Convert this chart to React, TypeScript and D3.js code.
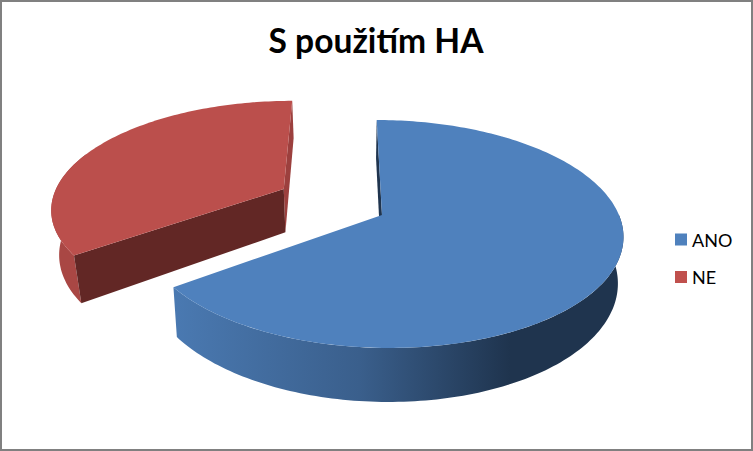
import React from 'react';
import * as d3 from 'd3';

const title = 'S použitím HA';
const categories = ['ANO', 'NE'];
const shares = [65, 35];
const colors = ['#4f81bd', '#c0504d'];

const width = 753;
const height = 451;

// perspective set-up: disc radius = 1, z grows towards the viewer
const vanishX = 345;
const groundY = 215;
const scaleX = 237;
const scaleY = 110.8;
const depth = 1 / 6;
const thickness = 45;
const discX = 0.156;
const explode = 0.49;
const explodeTurn = 0.05;
const shrinkAno = 0.02;
const shrinkNe = 0.027;

type P = [number, number];

// shrink > 0 means a point on the lower rim of the slice
function project(x: number, z: number, shrink = 0): P {
    const s = 1 / (1 - depth * z);
    return [
        vanishX + s * (1 - shrink) * scaleX * x,
        groundY + s * scaleY * z + (shrink ? s * thickness : 0),
    ];
}

function rimPoints(cx: number, cz: number, a0: number, a1: number, shrink = 0): P[] {
    const n = Math.max(2, Math.ceil(Math.abs(a1 - a0) / 0.02));
    return d3.range(n + 1).map((i) => {
        const a = a0 + ((a1 - a0) * i) / n;
        return project(cx + Math.sin(a), cz - Math.cos(a), shrink);
    });
}

const path = d3.line<P>().x((d) => d[0]).y((d) => d[1]);

const arcs = d3.pie<number>().sort(null)(shares);
const [ano, ne] = arcs;

// blue stays near the middle, red is pulled out along its mid angle
const neMid = (ne.startAngle + ne.endAngle) / 2 + explodeTurn;
const neX = discX + explode * Math.sin(neMid);
const neZ = -explode * Math.cos(neMid);

function topFace(cx: number, cz: number, a0: number, a1: number) {
    return path([project(cx, cz), ...rimPoints(cx, cz, a0, a1)]) + 'Z';
}

function outerWall(cx: number, cz: number, a0: number, a1: number, shrink: number) {
    return path([...rimPoints(cx, cz, a0, a1), ...rimPoints(cx, cz, a1, a0, shrink)]) + 'Z';
}

function radialWall(cx: number, cz: number, a: number, shrink: number) {
    const rx = cx + Math.sin(a);
    const rz = cz - Math.cos(a);
    return path([project(cx, cz), project(rx, rz), project(rx, rz, shrink), project(cx, cz, shrink)]) + 'Z';
}

const legendY = d3.scalePoint<string>().domain(categories).range([239.5, 277]);

export default function App() {
    return (
        <svg
            width={width}
            height={height}
            viewBox={`0 0 ${width} ${height}`}
            style={{ position: 'absolute', left: 0, top: 0, background: '#fff' }}
        >
            <defs>
                <linearGradient id="blueWall" gradientUnits="userSpaceOnUse" x1="175" x2="510" y1="0" y2="0">
                    <stop offset="0" stopColor="#4a79b1" />
                    <stop offset="0.55" stopColor="#3a5f8c" />
                    <stop offset="1" stopColor="#1f344e" />
                </linearGradient>
            </defs>
            <rect x={1} y={1} width={width - 2} height={height - 2} fill="#fff" stroke="#808080" strokeWidth={2} />
            <text
                x={376}
                y={53}
                textAnchor="middle"
                fontFamily="Lato, sans-serif"
                fontWeight={700}
                fontSize={33.6}
                fill="#000"
            >
                {title}
            </text>

            {/* NE slice */}
            <path d={outerWall(neX, neZ, ne.startAngle, ne.startAngle + 1, shrinkNe)} fill="#a94744" />
            <path d={radialWall(neX, neZ, ne.endAngle, shrinkNe)} fill="#9c403e" />
            <path d={radialWall(neX, neZ, ne.startAngle, shrinkNe)} fill="#622725" />
            <path d={topFace(neX, neZ, ne.startAngle, ne.endAngle)} fill="#bb4f4c" />

            {/* ANO slice */}
            <path d={radialWall(discX, 0, ano.startAngle, shrinkAno)} fill="#1f344e" />
            <path d={outerWall(discX, 0, Math.PI / 2, ano.endAngle, shrinkAno)} fill="url(#blueWall)" />
            <path d={topFace(discX, 0, ano.startAngle, ano.endAngle)} fill={colors[0]} />

            {/* legend */}
            {categories.map((c, i) => (
                <g key={c}>
                    <rect x={675} y={(legendY(c) ?? 0) - 6} width={12} height={12} fill={colors[i]} />
                    <text x={692} y={(legendY(c) ?? 0) + 7} fontFamily="Lato, sans-serif" fontSize={18} fill="#000">
                        {c}
                    </text>
                </g>
            ))}
        </svg>
    );
}
